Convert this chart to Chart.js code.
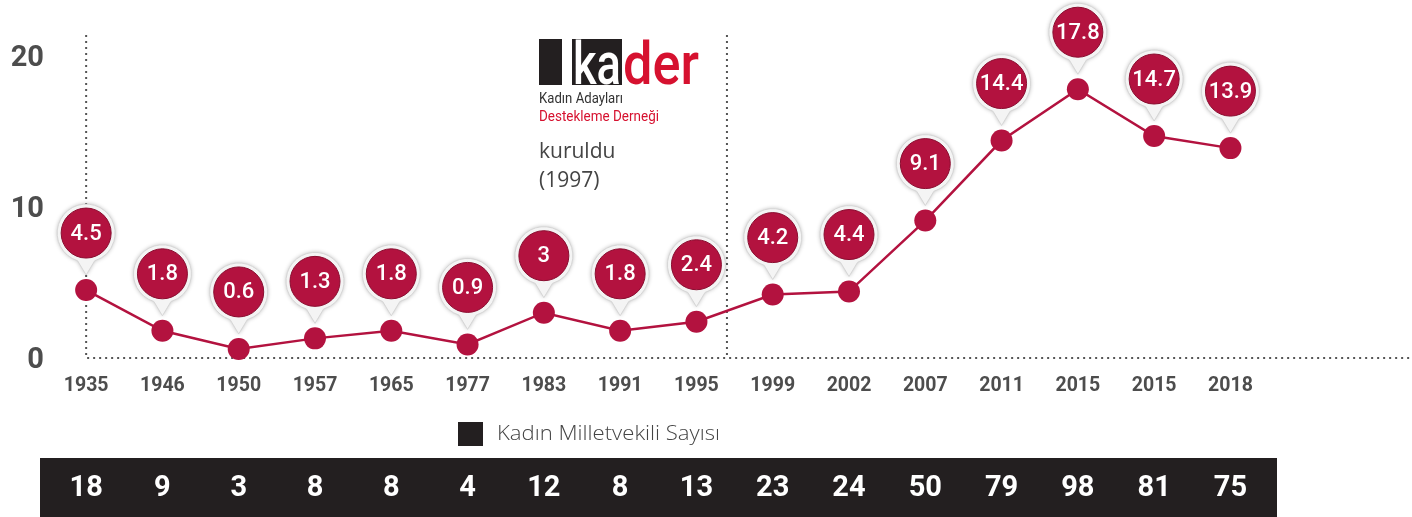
<!DOCTYPE html>
<html>
<head>
<meta charset="utf-8">
<script src="https://cdn.jsdelivr.net/npm/chart.js@4/dist/chart.umd.min.js"></script>
<style>
  html, body { margin: 0; padding: 0; background: #fff; }
  canvas { display: block; }
</style>
</head>
<body>
<canvas id="chart" width="1412" height="517"></canvas>
<script>
// years on the x axis
const years = ["1935", "1946", "1950", "1957", "1965", "1977", "1983", "1991", "1995",
  "1999", "2002", "2007", "2011", "2015", "2015", "2018"];
// share of women in parliament, %
const womenShare = [4.5, 1.8, 0.6, 1.3, 1.8, 0.9, 3, 1.8, 2.4, 4.2, 4.4, 9.1, 14.4, 17.8, 14.7, 13.9];
// number of women MPs
const womenSeats = [18, 9, 3, 8, 8, 4, 12, 8, 13, 23, 24, 50, 79, 98, 81, 75];
const yTicks = [0, 10, 20];

const RED = "#b3123f";
const DARK = "#231f20";
const GREY = "#4d4d4d";

function fit(ctx, txt, x, y, w) {
  // draw text squeezed to a given width (for the narrow logo type)
  const m = ctx.measureText(txt).width;
  ctx.save();
  ctx.translate(x, y);
  ctx.scale(w / m, 1);
  ctx.fillText(txt, 0, 0);
  ctx.restore();
}

const decor = {
  id: "decor",
  beforeDatasetsDraw(chart) {
    const { ctx, scales: { x, y } } = chart;
    const base = y.getPixelForValue(0);
    ctx.save();
    ctx.strokeStyle = "#555";
    ctx.lineWidth = 2;
    ctx.setLineDash([2, 4]);
    ctx.beginPath();
    ctx.moveTo(x.getPixelForValue(0), 35);
    ctx.lineTo(x.getPixelForValue(0), base);
    ctx.lineTo(1410, base);
    ctx.moveTo(x.getPixelForValue(8.4), 35);
    ctx.lineTo(x.getPixelForValue(8.4), base);
    ctx.stroke();
    ctx.restore();
  },
  afterDatasetsDraw(chart) {
    const { ctx } = chart;
    const meta = chart.getDatasetMeta(0);
    meta.data.forEach((pt, i) => {
      const px = pt.x, py = pt.y;
      const cy = py - 57, tip = py - 15;
      const shape = () => {
        ctx.beginPath();
        ctx.arc(px, cy, 29, Math.PI / 2 + 0.3, Math.PI / 2 - 0.3 + 2 * Math.PI);
        ctx.lineTo(px, tip);
        ctx.closePath();
      };
      ctx.save();
      ctx.shadowColor = "rgba(0,0,0,0.28)";
      ctx.shadowBlur = 4;
      ctx.fillStyle = "#f4f4f4";
      shape();
      ctx.fill();
      ctx.restore();
      ctx.save();
      ctx.strokeStyle = "#d6d6d6";
      ctx.lineWidth = 1;
      shape();
      ctx.stroke();
      ctx.beginPath();
      ctx.arc(px, cy, 25, 0, 2 * Math.PI);
      ctx.fillStyle = RED;
      ctx.fill();
      ctx.strokeStyle = "#8a0d30";
      ctx.stroke();
      ctx.fillStyle = "#fff";
      ctx.font = "500 22px Roboto";
      ctx.textAlign = "center";
      ctx.textBaseline = "middle";
      ctx.fillText(String(womenShare[i]), px, cy + 1);
      ctx.restore();
    });
  },
  afterDraw(chart) {
    const { ctx, scales: { x } } = chart;
    ctx.save();
    // kader logo
    ctx.fillStyle = DARK;
    ctx.fillRect(539, 39, 23, 46);
    ctx.fillRect(572, 39, 50, 46);
    ctx.textBaseline = "alphabetic";
    ctx.font = "500 60px Roboto";
    ctx.fillStyle = "#fff";
    fit(ctx, "ka", 573, 84, 48);
    ctx.fillStyle = "#d6112f";
    fit(ctx, "der", 623, 84, 76);
    ctx.font = "15px Roboto";
    ctx.fillStyle = "#333";
    fit(ctx, "Kadın Adayları", 539, 103, 84);
    ctx.fillStyle = "#d6112f";
    fit(ctx, "Destekleme Derneği", 539, 121, 120);
    ctx.font = "21px 'Open Sans'";
    ctx.fillStyle = "#444";
    ctx.fillText("kuruldu", 539, 158);
    ctx.fillText("(1997)", 539, 187);
    // legend
    ctx.fillStyle = DARK;
    ctx.fillRect(458, 422, 25, 24);
    ctx.font = "300 21px 'Open Sans'";
    ctx.fillStyle = "#444";
    ctx.textBaseline = "middle";
    fit(ctx, "Kadın Milletvekili Sayısı", 497, 434, 223);
    // seats bar
    ctx.fillStyle = DARK;
    ctx.fillRect(40, 458, 1237, 59);
    ctx.fillStyle = "#fff";
    ctx.font = "bold 29px Roboto";
    ctx.textAlign = "center";
    womenSeats.forEach((n, i) => {
      ctx.fillText(String(n), x.getPixelForValue(i), 489);
    });
    ctx.restore();
  }
};

new Chart(document.getElementById("chart"), {
  type: "line",
  data: {
    datasets: [{
      data: womenShare.map((v, i) => ({ x: i, y: v })),
      borderColor: RED,
      backgroundColor: RED,
      borderWidth: 2.5,
      pointRadius: 11,
      pointHoverRadius: 11,
      pointBorderWidth: 0,
      tension: 0,
      clip: false
    }]
  },
  options: {
    responsive: false,
    animation: false,
    devicePixelRatio: 1,
    layout: { padding: { top: 56, bottom: 119, left: 0, right: 0 }, autoPadding: false },
    plugins: { legend: { display: false }, tooltip: { enabled: false } },
    scales: {
      x: {
        type: "linear",
        min: -0.5,
        max: 17.38,
        grid: { display: false, drawTicks: false },
        border: { display: false },
        afterBuildTicks: (s) => { s.ticks = years.map((_, i) => ({ value: i })); },
        afterFit: (s) => { s.height = 40; },
        ticks: {
          padding: 16,
          color: GREY,
          font: { family: "Roboto", weight: "bold", size: 19.5 },
          callback: (v) => years[v]
        }
      },
      y: {
        min: 0,
        max: 20,
        grid: { display: false, drawTicks: false },
        border: { display: false },
        afterBuildTicks: (s) => { s.ticks = yTicks.map(v => ({ value: v })); },
        afterFit: (s) => { s.width = 48; },
        ticks: {
          padding: 4,
          labelOffset: 3,
          color: GREY,
          font: { family: "Roboto", weight: "bold", size: 29 }
        }
      }
    }
  },
  plugins: [decor]
});
</script>
</body>
</html>
